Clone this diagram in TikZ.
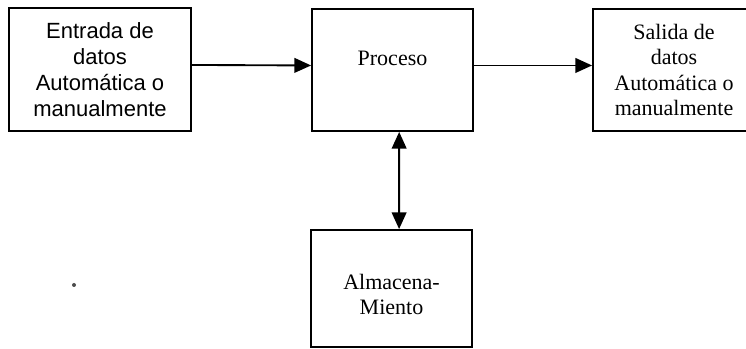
\documentclass[tikz,border=0pt]{standalone}
\usepackage{fontspec}
\setmainfont{Liberation Serif}
\newfontfamily\arialfont{Liberation Sans}
\usetikzlibrary{positioning,arrows.meta}
\tikzset{
  blk/.style={draw,line width=1.4pt,inner sep=0pt},
  txt/.style={font=\fontsize{16.5}{19}\selectfont,align=center},
  stxt/.style={font=\arialfont\fontsize{16.5}{19.5}\selectfont,align=center},
  flow/.style={line width=1.4pt,-{Triangle[length=12.5pt,width=11pt]}},
  dflow/.style={line width=1.4pt,{Triangle[length=12.5pt,width=11pt]}-{Triangle[length=12.5pt,width=11pt]}},
  speck/.style={circle,fill=black!70,inner sep=0pt,minimum size=3pt}
}

\begin{document}
\begin{tikzpicture}[x=0.75pt,y=0.75pt]
  \useasboundingbox (0,0) rectangle (746,349);
  \clip (0,0) rectangle (746,349);
  % bloques
  \node[blk,stxt,minimum width=136.5pt,minimum height=92.25pt] (ent) at (100,279.5) {Entrada de\\datos\\Autom\'atica o\\manualmente};
  \node[blk,minimum width=120.75pt,minimum height=91.5pt] (proc) at (392.5,279) {};
  \node[txt] (proctxt) at ([yshift=9pt]proc.center) {Proceso};
  \node[blk,txt,minimum width=121.5pt,minimum height=91.5pt] (sal) at (674,279) {Salida de\\datos\\Autom\'atica o\\manualmente};
  \node[blk,minimum width=120.75pt,minimum height=87.75pt] (alm) at (391.5,60.5) {};
  \node[txt] (almtxt) at ([yshift=-4.5pt]alm.center) {Almacena-\\Miento};
  \node[speck] (dot) at (74,64) {};
  % flechas
  \draw[flow] ([yshift=3.4pt]ent.east) -- ([yshift=3.4pt]proc.west);
  \draw[flow] ([yshift=3.4pt]proc.east) -- ([yshift=3.4pt]sal.west);
  \draw[dflow] ([xshift=5pt]proc.south) -- ([xshift=5.7pt]alm.north);
\end{tikzpicture}
\end{document}
